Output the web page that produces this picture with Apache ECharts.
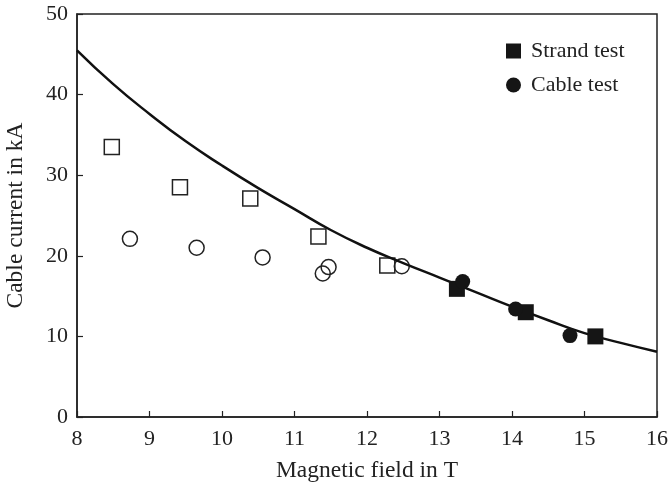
<!DOCTYPE html>
<html>
<head>
<meta charset="utf-8">
<script src="https://cdn.jsdelivr.net/npm/echarts@6/dist/echarts.min.js"></script>
<style>
  html, body { margin: 0; padding: 0; background: #fff; }
  #chart { width: 670px; height: 484px; }
</style>
</head>
<body>
<div id="chart"></div>
<script>
// fitted curve
var curveX = [8, 8.5, 9, 9.5, 10, 10.5, 11, 11.5, 12, 12.5, 13, 13.5, 14, 14.5, 15, 15.5, 16];
var curveY = [45.5, 41.3, 37.6, 34.2, 31.2, 28.4, 25.8, 23.2, 21.0, 19.1, 17.3, 15.5, 13.7, 12.0, 10.4, 9.2, 8.1];

// open markers
var openSqX = [8.48, 9.42, 10.39, 11.33, 12.28];
var openSqY = [33.5, 28.5, 27.1, 22.4, 18.8];
var openCircX = [8.73, 9.65, 10.56, 11.39, 11.47, 12.48];
var openCircY = [22.1, 21.0, 19.8, 17.8, 18.6, 18.7];

// filled markers
var strandX = [13.24, 14.19, 15.15];
var strandY = [15.9, 13.0, 10.0];
var cableX = [13.32, 14.05, 14.80];
var cableY = [16.8, 13.4, 10.1];

function pairs(xs, ys){
    var out = [];
    for(var i = 0; i < xs.length; i++){
        out.push([xs[i], ys[i]]);
    }
    return out;
}

var font = 'Liberation Serif';
var chartDom = document.getElementById('chart');
var myChart = echarts.init(chartDom);
var option;

option = {
    animation: false,
    textStyle: { fontFamily: font },
    grid: {
        left: 77, right: 13, top: 14, bottom: 67,
        outerBoundsMode: 'none',
        containLabel: false,
        show: true, borderColor: '#222', borderWidth: 1.5
    },
    legend: {
        orient: 'vertical',
        left: 501, top: 35,
        itemWidth: 15, itemHeight: 15, itemGap: 12,
        textStyle: { fontFamily: font, fontSize: 22, color: '#222', padding: [0, 0, 0, 5] },
        data: [
            { name: 'Strand test', icon: 'rect' },
            { name: 'Cable test', icon: 'circle' }
        ]
    },
    xAxis: {
        type: 'value',
        min: 8, max: 16, interval: 1,
        name: 'Magnetic field in T',
        nameLocation: 'middle', nameGap: 42,
        nameTextStyle: { fontFamily: font, fontSize: 23.5, color: '#222' },
        axisLine: { lineStyle: { color: '#222', width: 1.5 } },
        axisTick: { inside: true, length: 6, lineStyle: { color: '#222', width: 1.2 } },
        axisLabel: { fontFamily: font, fontSize: 22, color: '#222', margin: 11 },
        splitLine: { show: false }
    },
    yAxis: {
        type: 'value',
        min: 0, max: 50, interval: 10,
        name: 'Cable current in kA',
        nameLocation: 'middle', nameGap: 49,
        nameTextStyle: { fontFamily: font, fontSize: 23.5, color: '#222' },
        axisLine: { show: true, lineStyle: { color: '#222', width: 1.5 } },
        axisTick: { show: true, inside: true, length: 6, lineStyle: { color: '#222', width: 1.2 } },
        axisLabel: { fontFamily: font, fontSize: 22, color: '#222', margin: 9 },
        splitLine: { show: false }
    },
    series: [
        {
            name: 'fit',
            type: 'line',
            data: pairs(curveX, curveY),
            smooth: true,
            showSymbol: false,
            lineStyle: { color: '#111', width: 2.5 },
            z: 3
        },
        {
            name: 'open squares',
            type: 'scatter',
            data: pairs(openSqX, openSqY),
            symbol: 'rect', symbolSize: 15,
            itemStyle: { color: '#fff', borderColor: '#222', borderWidth: 1.5, opacity: 1 },
            z: 2
        },
        {
            name: 'open circles',
            type: 'scatter',
            data: pairs(openCircX, openCircY),
            symbol: 'circle', symbolSize: 15,
            itemStyle: { color: 'rgba(255,255,255,0)', borderColor: '#222', borderWidth: 1.5, opacity: 1 },
            z: 2
        },
        {
            name: 'Strand test',
            type: 'scatter',
            data: pairs(strandX, strandY),
            symbol: 'rect', symbolSize: 16,
            itemStyle: { color: '#151515', opacity: 1 },
            z: 4
        },
        {
            name: 'Cable test',
            type: 'scatter',
            data: pairs(cableX, cableY),
            symbol: 'circle', symbolSize: 15,
            itemStyle: { color: '#151515', opacity: 1 },
            z: 4
        }
    ]
};

option && myChart.setOption(option);
</script>
</body>
</html>
